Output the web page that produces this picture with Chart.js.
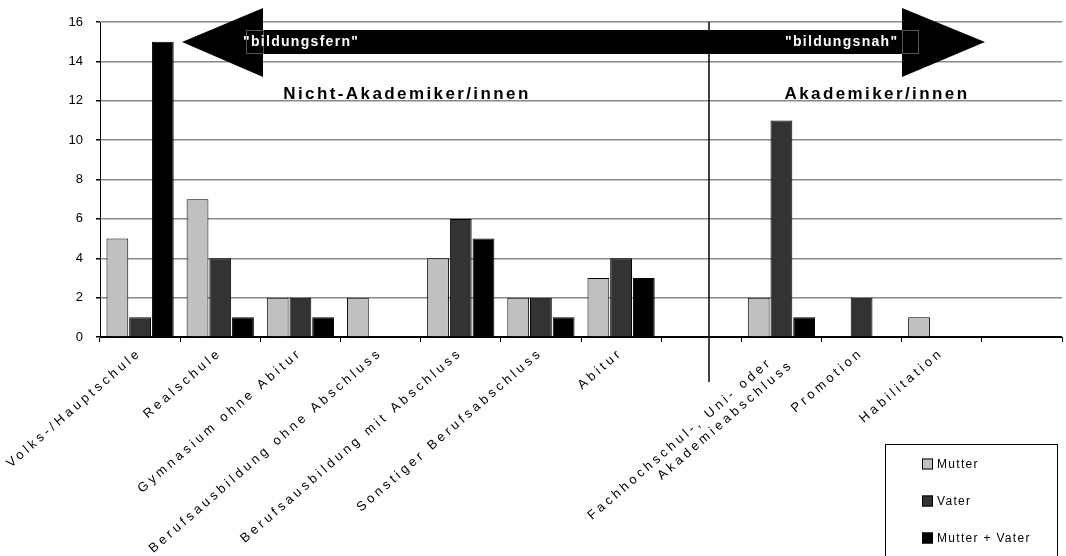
<!DOCTYPE html>
<html>
<head>
<meta charset="utf-8">
<script src="https://cdn.jsdelivr.net/npm/chart.js@4.4.1/dist/chart.umd.min.js"></script>
<style>
html,body{margin:0;padding:0;background:#fff}
#wrap{width:1066px;height:556px;position:relative}
</style>
</head>
<body>
<div id="wrap"><canvas id="c"></canvas></div>
<script>
/* ── DATA ── */
var categories=['Volks-/Hauptschule','Realschule','Gymnasium ohne Abitur','Berufsausbildung ohne Abschluss','Berufsausbildung mit Abschluss','Sonstiger Berufsabschluss','Abitur','',['Fachhochschul-, Uni- oder  ','Akademieabschluss'],'Promotion','Habilitation',''];
var mutter=[5,7,2,2,4,2,3,0,2,0,1,0];
var vater=[1,4,2,0,6,2,4,0,11,2,0,0];
var beide=[15,1,1,0,5,1,3,0,1,0,0,0];
var seriesNames=['Mutter','Vater','Mutter + Vater'];
var seriesColors=['#c0c0c0','#333333','#000000'];
var yMax=16, yStep=2;

var FONT='"Liberation Sans", Arial, sans-serif';
Chart.defaults.font.family=FONT;
Chart.defaults.color='#000';

/* ── x labels with wide letter spacing ── */
var spacedLabels={id:'spacedLabels',
  afterLayout:function(ch){
    var s=ch.scales.x;
    if(s&&!s._ls){
      var orig=s.drawLabels;
      s.drawLabels=function(a){var c=this.ctx;c.save();c.letterSpacing='3.5px';orig.call(this,a);c.restore();};
      s._ls=true;
    }
  }
};

/* ── arrow, headings, separator, legend ── */
var deko={id:'deko',
  afterDraw:function(ch){
    var c=ch.ctx;c.save();
    // separator line
    c.strokeStyle='#000';c.lineWidth=1.5;
    c.beginPath();c.moveTo(709,22);c.lineTo(709,382);c.stroke();
    // double arrow
    c.fillStyle='#000';c.beginPath();
    c.moveTo(182,42);c.lineTo(263,8);c.lineTo(263,30);c.lineTo(902,30);c.lineTo(902,8);
    c.lineTo(985,42);c.lineTo(902,77);c.lineTo(902,54);c.lineTo(263,54);c.lineTo(263,77);
    c.closePath();c.fill();
    c.strokeStyle='#555';c.lineWidth=1;
    c.strokeRect(246.5,30.5,17,23);c.strokeRect(902.5,30.5,16,23);
    c.fillStyle='#fff';c.font='bold 14px '+FONT;c.letterSpacing='1.3px';
    c.textAlign='left';c.textBaseline='alphabetic';
    c.fillText('"bildungsfern"',243,46);
    c.fillText('"bildungsnah"',785,46);
    // group headings
    c.fillStyle='#000';c.font='bold 17px '+FONT;c.letterSpacing='2.4px';c.textAlign='center';
    c.fillText('Nicht-Akademiker/innen',407,99);
    c.fillText('Akademiker/innen',877,99);
    // legend
    c.letterSpacing='1.3px';
    c.strokeStyle='#000';c.lineWidth=1;
    c.strokeRect(885.5,444.5,172,130);
    c.font='12px '+FONT;c.textAlign='left';c.textBaseline='middle';
    ch.data.datasets.forEach(function(d,i){
      var y=464+i*37;
      c.fillStyle=d.backgroundColor;c.fillRect(922,y-5.5,11,11);
      c.strokeStyle='#000';c.strokeRect(922.5,y-5,10,10);
      c.fillStyle='#000';c.fillText(d.label,937,y+1);
    });
    c.restore();
  }
};

new Chart(document.getElementById('c').getContext('2d'),{
  type:'bar',
  data:{
    labels:categories,
    datasets:[
      {label:seriesNames[0],data:mutter,backgroundColor:seriesColors[0]},
      {label:seriesNames[1],data:vater,backgroundColor:seriesColors[1]},
      {label:seriesNames[2],data:beide,backgroundColor:seriesColors[2]}
    ]
  },
  options:{
    responsive:true,maintainAspectRatio:false,animation:false,
    layout:{padding:{top:22,right:4,left:0,bottom:0}},
    datasets:{bar:{borderColor:'#000',borderWidth:1,categoryPercentage:.85,barPercentage:.96}},
    plugins:{legend:{display:false},tooltip:{enabled:false}},
    scales:{
      x:{
        grid:{drawOnChartArea:false,drawTicks:true,tickLength:5,tickColor:'#000'},
        border:{display:true,color:'#000',width:1},
        ticks:{autoSkip:false,maxRotation:41,minRotation:41,padding:3,font:{size:13},color:'#000'},
        afterFit:function(s){s.height=219;s.paddingLeft=0;s.paddingRight=0;}
      },
      y:{
        min:0,max:yMax,
        grid:{color:function(x){return x.tick&&x.tick.value===0?'#000':'#888';},lineWidth:1.5,tickLength:4,tickColor:'#000'},
        border:{display:true,color:'#000',width:1},
        ticks:{stepSize:yStep,padding:13,font:{size:13},color:'#000'},
        afterFit:function(s){s.width=100;}
      }
    }
  },
  plugins:[spacedLabels,deko]
});
</script>
</body>
</html>
